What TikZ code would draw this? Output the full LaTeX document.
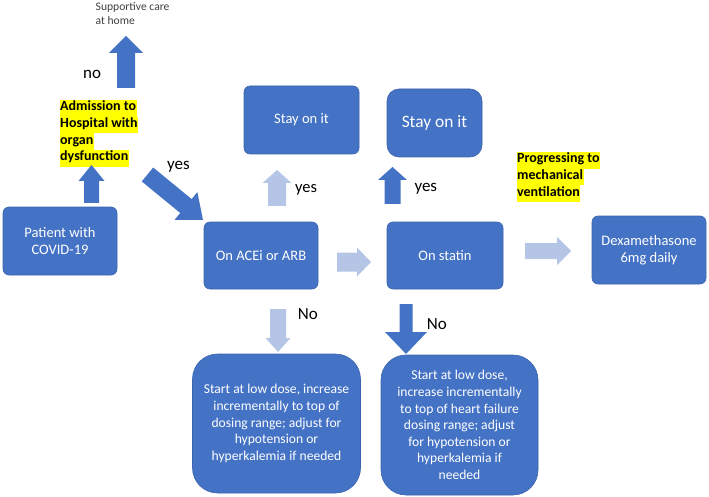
\documentclass[tikz,border=0pt]{standalone}
\usepackage{fontspec}
\setmainfont{Carlito}
\usetikzlibrary{calc}
\definecolor{dblue}{HTML}{4472C4}
\definecolor{lblue}{HTML}{B4C5E6}
\definecolor{bord}{HTML}{3B64AE}
\definecolor{hl}{HTML}{FFFF00}
\definecolor{graytxt}{HTML}{404040}
\newcommand{\blockarrow}[6]{%
  \fill[#1] let \p1=(#2), \p2=(#3), \n1={atan2(\y2-\y1,\x2-\x1)}, \n2={veclen(\x2-\x1,\y2-\y1)} in
   [shift={(\p1)}, rotate=\n1] (0,-#4) -- ({\n2-#6},-#4) -- ({\n2-#6},-#5) -- (\n2,0) -- ({\n2-#6},#5) -- ({\n2-#6},#4) -- (0,#4) -- cycle;}
\begin{document}
\begin{tikzpicture}[x=1pt,y=-1pt,
  box/.style={rectangle, rounded corners=#1, fill=dblue, draw=bord, line width=0.6pt, text=white, align=center, inner sep=2pt, font=\fontsize{14.5}{17.5}\selectfont},
  box/.default=6pt,
  hlt/.style={fill=hl, inner xsep=0.5pt, inner ysep=0pt, text height=10.6pt, text depth=6.2pt, anchor=base west, font=\bfseries\fontsize{14}{16.8}\selectfont},
  lbl/.style={anchor=base west, inner sep=0pt, font=\fontsize{17}{20}\selectfont},
  small/.style={anchor=base west, inner sep=0pt, text=graytxt, font=\fontsize{11.6}{14}\selectfont},
  btext/.style={font=\fontsize{13.6}{16.6}\selectfont}
]
\useasboundingbox (0,0) rectangle (709,497);
% boxes
\node[box, minimum width=114pt, minimum height=68pt] (patient) at (60,241) {Patient with\\COVID-19};
\node[box, minimum width=114pt, minimum height=67pt] (acei) at (261,255.5) {On ACEi or ARB};
\node[box, minimum width=116pt, minimum height=67pt] (statin) at (445,255.5) {On statin};
\node[box, minimum width=114pt, minimum height=68pt] (dexa) at (649,250) {Dexamethasone\\6mg daily};
\node[box, minimum width=115pt, minimum height=68pt] (stay1) at (301.5,120) {Stay on it};
\node[box=12pt, minimum width=95pt, minimum height=68pt, font=\fontsize{17.4}{21}\selectfont] (stay2) at (434.5,123) {Stay on it};
\node[box=25pt, minimum width=168pt, minimum height=139pt, btext] (low1) at (276.5,423.5) {Start at low dose, increase\\incrementally to top of\\dosing range; adjust for\\hypotension or\\hyperkalemia if needed};
\node[box=25pt, minimum width=157pt, minimum height=140pt, btext] (low2) at (459.5,425) {Start at low dose,\\increase incrementally\\to top of heart failure\\dosing range; adjust\\for hypotension or\\hyperkalemia if\\needed};
% highlighted texts
\node[hlt] (adm1) at (59.5,110.5) {Admission to};
\node[hlt] (adm2) at (59.5,127.3) {Hospital with};
\node[hlt] (adm3) at (59.5,144.1) {organ};
\node[hlt] (adm4) at (59.5,160.9) {dysfunction};
\node[hlt] (prog1) at (516.5,162.5) {Progressing to};
\node[hlt] (prog2) at (516.5,179.3) {mechanical};
\node[hlt] (prog3) at (516.5,196.1) {ventilation};
% small text
\node[small] (sup1) at (95.5,10.3) {Supportive care};
\node[small] (sup2) at (95.5,24.8) {at home};
% labels
\node[lbl] (no1) at (83,78.3) {no};
\node[lbl] (yes1) at (167,169.5) {yes};
\node[lbl, font=\fontsize{16.5}{20}\selectfont] (yes2) at (295,192.7) {yes};
\node[lbl] (yes3) at (414.3,191.7) {yes};
\node[lbl] (no2) at (297.7,319) {No};
\node[lbl] (no3) at (426.7,329.3) {No};
% arrow end points
\coordinate (a1t) at (91.5,203); \coordinate (a1h) at (91.5,165);
\coordinate (a2t) at (126,88);   \coordinate (a2h) at (126,36);
\coordinate (a3t) at (147.5,174.5); \coordinate (a3h) at (203,220);
\coordinate (a4t) at (277,206);  \coordinate (a4h) at (277,170);
\coordinate (a5t) at (392.5,204); \coordinate (a5h) at (392.5,167);
\coordinate (a6t) at (337,262);  \coordinate (a6h) at (371,262);
\coordinate (a7t) at (525,251);  \coordinate (a7h) at (571,251);
\coordinate (a8t) at (278,309);  \coordinate (a8h) at (278,352);
\coordinate (a9t) at (406,304);  \coordinate (a9h) at (406,354);
\blockarrow{dblue}{a1t}{a1h}{7.5}{13}{16}
\blockarrow{dblue}{a2t}{a2h}{9}{17}{17}
\blockarrow{dblue}{a3t}{a3h}{9}{18}{22}
\blockarrow{lblue}{a4t}{a4h}{9}{14.5}{13}
\blockarrow{dblue}{a5t}{a5h}{8}{14.5}{13}
\blockarrow{lblue}{a6t}{a6h}{9.5}{14.5}{14}
\blockarrow{lblue}{a7t}{a7h}{8}{14}{14}
\blockarrow{lblue}{a8t}{a8h}{8}{12.5}{14}
\blockarrow{dblue}{a9t}{a9h}{6.5}{21}{22}
\end{tikzpicture}
\end{document}
